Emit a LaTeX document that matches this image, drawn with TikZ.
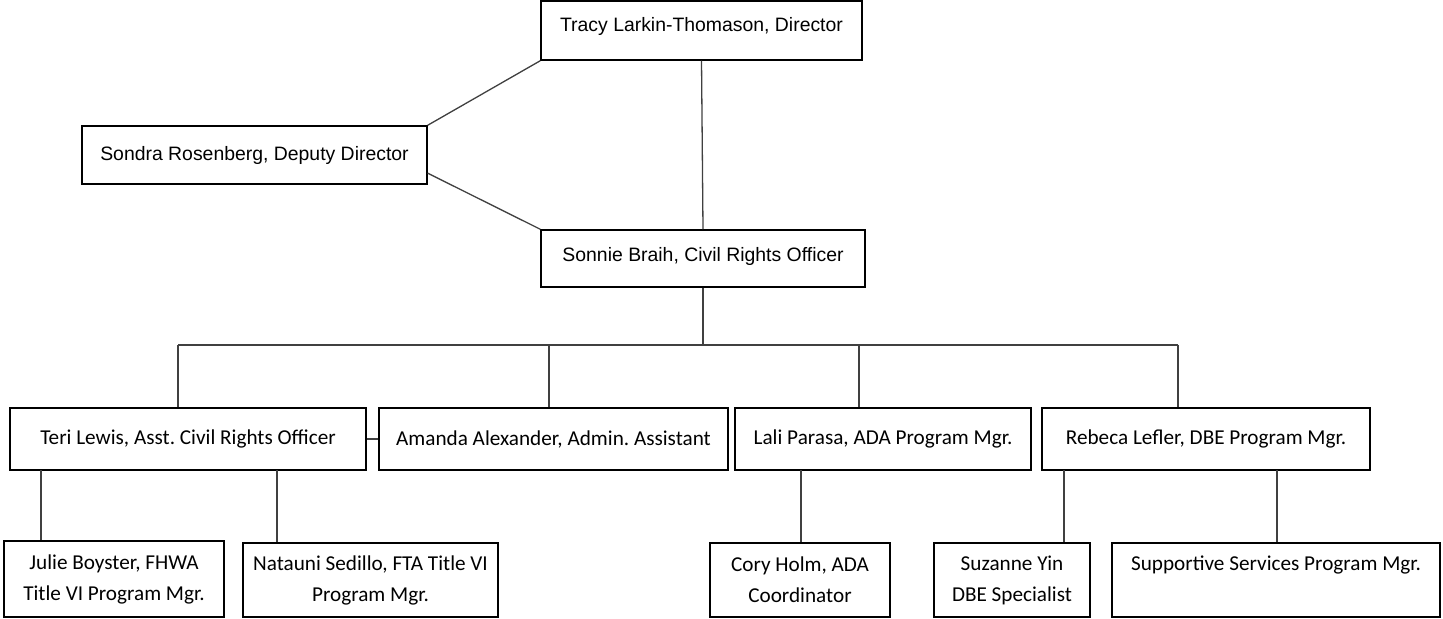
\documentclass[tikz,border=0pt]{standalone}
\usepackage{fontspec}
\setmainfont{Carlito}
\newfontfamily\arialfont{Liberation Sans}
\frenchspacing

\begin{document}
\begin{tikzpicture}
		[x=0.5pt,y=-0.5pt,every node/.style={draw=black,line width=0.75pt,rectangle,inner sep=2pt,align=center,font=\fontsize{10.6}{15.5}\selectfont},
		size/.style 2 args={minimum width=#1,minimum height=#2},
		headbox/.style={font=\arialfont\fontsize{9.7}{12}\selectfont},
		link/.style={draw=black!75,line width=0.65pt}]
		\useasboundingbox (0,0) rectangle (1443,619);
		% top three
		\node[headbox,size={160.5pt}{29.5pt},text depth=6pt] (tracy) at (701.5,30.5) {Tracy Larkin-Thomason, Director};
		\node[headbox,size={172.5pt}{29pt}] (sondra) at (254.5,155) {Sondra Rosenberg, Deputy Director};
		\node[headbox,size={162pt}{28.5pt},text depth=4pt] (sonnie) at (703,258.5) {Sonnie Braih, Civil Rights Officer};
		% second row
		\node[size={178pt}{31pt}] (teri) at (188,439) {Teri Lewis, Asst. Civil Rights Officer};
		\node[size={174.5pt}{31pt}] (amanda) at (553.5,439) {Amanda Alexander, Admin. Assistant};
		\node[size={148pt}{31pt}] (lali) at (883,439) {Lali Parasa, ADA Program Mgr.};
		\node[size={164pt}{31pt}] (rebeca) at (1206,439) {Rebeca Lefler, DBE Program Mgr.};
		% bottom row
		\node[size={110pt}{38pt}] (julie) at (114,579) {Julie Boyster, FHWA\\Title VI Program Mgr.};
		\node[size={127.5pt}{37pt}] (natauni) at (370.5,580) {Natauni Sedillo, FTA Title VI\\Program Mgr.};
		\node[size={90pt}{37pt}] (cory) at (800,580) {Cory Holm, ADA\\Coordinator};
		\node[size={78pt}{37pt}] (suzanne) at (1012,580) {Suzanne Yin\\DBE Specialist};
		\node[size={164pt}{37pt},text depth=17pt] (supp) at (1276,580) {Supportive Services Program Mgr.};
		
		\coordinate (bus) at (703,345);
		\coordinate (b1) at (178,345);
		\coordinate (b2) at (549,345);
		\coordinate (b3) at (859,345);
		\coordinate (b4) at (1178,345);
		\coordinate (t1) at (41,470);
		\coordinate (t2) at (277,470);
		\coordinate (l1) at (801,470);
		\coordinate (r1) at (1064,470);
		\coordinate (r2) at (1277,470);
		
		\draw[link] (tracy.south west) -- (sondra.north east);
		\draw[link] (sondra.-6) -- (sonnie.north west);
		\draw[link] (tracy.south) -- (sonnie.north);
		\draw[link] (sonnie.south) -- (bus);
		\draw[link] (b1) -- (b4);
		\draw[link] (teri.east) -- (amanda.west);
		\foreach \drop/\kid in {b1/teri,b2/amanda,b3/lali,b4/rebeca,t1/julie,t2/natauni,l1/cory,r1/suzanne,r2/supp}
		\draw[link] (\drop) -- (\drop |- \kid.north);
		\end{tikzpicture}
\end{document}
